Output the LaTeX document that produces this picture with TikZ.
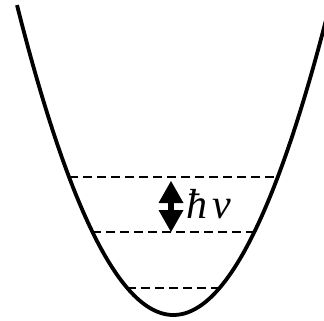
\documentclass[tikz,border=0pt]{standalone}
\usepackage{fontspec}
\setmainfont{Liberation Serif}
\usetikzlibrary{arrows.meta}

\begin{document}
\begin{tikzpicture}[
  x=1pt, y=-1pt,
  well/.style={line width=3.8pt},
  level/.style={line width=2pt, dash pattern=on 9pt off 5pt},
  quantum/.style={{Triangle[width=25pt,length=22pt,line width=0pt]}-{Triangle[width=25pt,length=22pt,line width=0pt]}, line width=6pt},
  freqlabel/.style={font=\fontsize{42}{48}\selectfont\itshape, inner sep=0pt},
]
  \useasboundingbox (0,0) rectangle (324,321);

  % potential well
  \draw[well] plot[domain=17:328, samples=90, smooth] (\x, {315-1.267*((\x-173.4)/10)^2});

  % energy levels
  \foreach \yy/\name in {288/v0, 232/v1, 177/v2} {
    \pgfmathsetmacro\dx{10*sqrt((315-\yy)/1.267)}
    \draw[level] (173.4-\dx,\yy) -- (173.4+\dx,\yy);
    \coordinate (\name) at (171,\yy);
  }

  \draw[quantum] ([yshift=-4pt]v2) -- (v1);
  \node[freqlabel, anchor=base west] (hv) at (186,218) {ħ\kern5ptν};

\end{tikzpicture}
\end{document}
